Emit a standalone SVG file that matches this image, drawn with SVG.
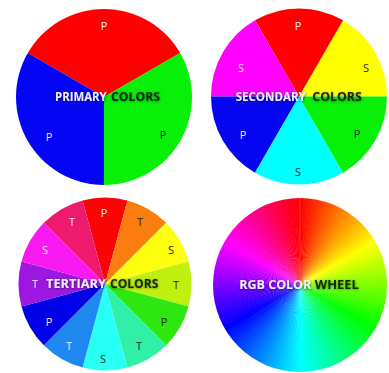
<svg xmlns="http://www.w3.org/2000/svg" xmlns:xlink="http://www.w3.org/1999/xlink" width="389" height="373" viewBox="0 0 389 373">
<defs>
<style>
.lbl{font-family:"Open Sans","Liberation Sans",sans-serif;font-size:11px;text-anchor:middle}
.lt{fill:#f4e4f4}
.dk{fill:#1a2a1a}
.ttl{font-family:"Open Sans","Liberation Sans",sans-serif;font-size:12px;font-weight:700}
.tw{fill:#eeeefc;filter:url(#sh)}
.tb{fill:#0b2a0b;filter:url(#sh2)}
</style>
<filter id="sh" x="-10%" y="-40%" width="120%" height="180%">
<feDropShadow dx="0.6" dy="0.8" stdDeviation="0.8" flood-color="#000" flood-opacity="0.55"/>
</filter>
<filter id="sh2" x="-10%" y="-40%" width="120%" height="180%">
<feDropShadow dx="0.4" dy="0.6" stdDeviation="0.9" flood-color="#000" flood-opacity="0.45"/>
</filter>
<filter id="bl" x="-5%" y="-5%" width="110%" height="110%">
<feGaussianBlur stdDeviation="0.7"/>
</filter>
<clipPath id="c4"><circle cx="300" cy="285" r="87"/></clipPath>
<path id="w" d="M0 0 L0 -90 A90 90 0 0 1 3.93 -89.91 Z"/>
</defs>
<rect width="389" height="373" fill="#ffffff"/>

<g id="primary">
<path d="M104 97 L180.21 53 A88 88 0 0 0 27.79 53 Z" fill="#fe0000"/>
<path d="M104 97 L104 185 A88 88 0 0 0 180.21 53 Z" fill="#08f008"/>
<path d="M104 97 L27.79 53 A88 88 0 0 0 104 185 Z" fill="#0505f5"/>
<text class="lbl lt" x="104" y="30">P</text>
<text class="lbl lt" x="49" y="141">P</text>
<text class="lbl dk" x="163" y="139">P</text>
<text class="ttl tw" x="55" y="101" textLength="51.7" lengthAdjust="spacingAndGlyphs">PRIMARY</text>
<text class="ttl tb" x="111" y="101" textLength="49" lengthAdjust="spacingAndGlyphs">COLORS</text>
</g>

<g id="secondary">
<path d="M299 96.5 L387 96.5 A88 88 0 0 0 343 20.29 Z" fill="#ffff00"/>
<path d="M299 96.5 L343 20.29 A88 88 0 0 0 255 20.29 Z" fill="#fe0000"/>
<path d="M299 96.5 L255 20.29 A88 88 0 0 0 211 96.5 Z" fill="#ff00ff"/>
<path d="M299 96.5 L211 96.5 A88 88 0 0 0 255 172.71 Z" fill="#0505f0"/>
<path d="M299 96.5 L255 172.71 A88 88 0 0 0 343 172.71 Z" fill="#00ffff"/>
<path d="M299 96.5 L343 172.71 A88 88 0 0 0 387 96.5 Z" fill="#08f008"/>
<text class="lbl lt" x="298" y="30">P</text>
<text class="lbl dk" x="366" y="72">S</text>
<text class="lbl dk" x="357" y="138">P</text>
<text class="lbl dk" x="298" y="176">S</text>
<text class="lbl lt" x="243" y="139">P</text>
<text class="lbl lt" x="241" y="72">S</text>
<text class="ttl tw" x="235.7" y="100.7" textLength="70" lengthAdjust="spacingAndGlyphs">SECONDARY</text>
<text class="ttl tb" x="312.3" y="100.7" textLength="49.4" lengthAdjust="spacingAndGlyphs">COLORS</text>
</g>

<g id="tertiary">
<path d="M105 284 L127.39 200.45 A86.5 86.5 0 0 0 82.61 200.45 Z" fill="#f80505"/>
<path d="M105 284 L166.17 222.83 A86.5 86.5 0 0 0 127.39 200.45 Z" fill="#fb7d10"/>
<path d="M105 284 L188.55 261.61 A86.5 86.5 0 0 0 166.17 222.83 Z" fill="#ffff10"/>
<path d="M105 284 L188.55 306.39 A86.5 86.5 0 0 0 188.55 261.61 Z" fill="#bff010"/>
<path d="M105 284 L166.17 345.17 A86.5 86.5 0 0 0 188.55 306.39 Z" fill="#2ee610"/>
<path d="M105 284 L127.39 367.55 A86.5 86.5 0 0 0 166.17 345.17 Z" fill="#30f0a8"/>
<path d="M105 284 L82.61 367.55 A86.5 86.5 0 0 0 127.39 367.55 Z" fill="#28fff5"/>
<path d="M105 284 L43.83 345.17 A86.5 86.5 0 0 0 82.61 367.55 Z" fill="#1e88f0"/>
<path d="M105 284 L21.45 306.39 A86.5 86.5 0 0 0 43.83 345.17 Z" fill="#0000e6"/>
<path d="M105 284 L21.45 261.61 A86.5 86.5 0 0 0 21.45 306.39 Z" fill="#9c18e0"/>
<path d="M105 284 L43.83 222.83 A86.5 86.5 0 0 0 21.45 261.61 Z" fill="#f81af0"/>
<path d="M105 284 L82.61 200.45 A86.5 86.5 0 0 0 43.83 222.83 Z" fill="#ee1a6e"/>
<text class="lbl lt" x="104" y="217">P</text>
<text class="lbl dk" x="140" y="226">T</text>
<text class="lbl dk" x="171" y="254">S</text>
<text class="lbl dk" x="176" y="289">T</text>
<text class="lbl dk" x="164" y="326">P</text>
<text class="lbl dk" x="139" y="350">T</text>
<text class="lbl dk" x="103" y="363">S</text>
<text class="lbl lt" x="69" y="350">T</text>
<text class="lbl lt" x="49" y="326">P</text>
<text class="lbl lt" x="35" y="288">T</text>
<text class="lbl lt" x="45" y="254">S</text>
<text class="lbl lt" x="72" y="226">T</text>
<text class="ttl tw" x="46" y="288" textLength="60" lengthAdjust="spacingAndGlyphs">TERTIARY</text>
<text class="ttl tb" x="110" y="288" textLength="48.3" lengthAdjust="spacingAndGlyphs">COLORS</text>
</g>

<g id="rgbwheel">
<g clip-path="url(#c4)">
<g filter="url(#bl)">
<g transform="translate(300 285)">
<use xlink:href="#w" transform="rotate(0)" fill="hsl(1,100%,50%)"/>
<use xlink:href="#w" transform="rotate(2)" fill="hsl(3,100%,50%)"/>
<use xlink:href="#w" transform="rotate(4)" fill="hsl(5,100%,50%)"/>
<use xlink:href="#w" transform="rotate(6)" fill="hsl(7,100%,50%)"/>
<use xlink:href="#w" transform="rotate(8)" fill="hsl(9,100%,50%)"/>
<use xlink:href="#w" transform="rotate(10)" fill="hsl(11,100%,50%)"/>
<use xlink:href="#w" transform="rotate(12)" fill="hsl(13,100%,50%)"/>
<use xlink:href="#w" transform="rotate(14)" fill="hsl(15,100%,50%)"/>
<use xlink:href="#w" transform="rotate(16)" fill="hsl(17,100%,50%)"/>
<use xlink:href="#w" transform="rotate(18)" fill="hsl(19,100%,50%)"/>
<use xlink:href="#w" transform="rotate(20)" fill="hsl(21,100%,50%)"/>
<use xlink:href="#w" transform="rotate(22)" fill="hsl(23,100%,50%)"/>
<use xlink:href="#w" transform="rotate(24)" fill="hsl(25,100%,50%)"/>
<use xlink:href="#w" transform="rotate(26)" fill="hsl(27,100%,50%)"/>
<use xlink:href="#w" transform="rotate(28)" fill="hsl(29,100%,50%)"/>
<use xlink:href="#w" transform="rotate(30)" fill="hsl(31,100%,50%)"/>
<use xlink:href="#w" transform="rotate(32)" fill="hsl(33,100%,50%)"/>
<use xlink:href="#w" transform="rotate(34)" fill="hsl(35,100%,50%)"/>
<use xlink:href="#w" transform="rotate(36)" fill="hsl(37,100%,50%)"/>
<use xlink:href="#w" transform="rotate(38)" fill="hsl(39,100%,50%)"/>
<use xlink:href="#w" transform="rotate(40)" fill="hsl(41,100%,50%)"/>
<use xlink:href="#w" transform="rotate(42)" fill="hsl(43,100%,50%)"/>
<use xlink:href="#w" transform="rotate(44)" fill="hsl(45,100%,50%)"/>
<use xlink:href="#w" transform="rotate(46)" fill="hsl(47,100%,50%)"/>
<use xlink:href="#w" transform="rotate(48)" fill="hsl(49,100%,50%)"/>
<use xlink:href="#w" transform="rotate(50)" fill="hsl(51,100%,50%)"/>
<use xlink:href="#w" transform="rotate(52)" fill="hsl(53,100%,50%)"/>
<use xlink:href="#w" transform="rotate(54)" fill="hsl(55,100%,50%)"/>
<use xlink:href="#w" transform="rotate(56)" fill="hsl(57,100%,50%)"/>
<use xlink:href="#w" transform="rotate(58)" fill="hsl(59,100%,50%)"/>
<use xlink:href="#w" transform="rotate(60)" fill="hsl(61,100%,50%)"/>
<use xlink:href="#w" transform="rotate(62)" fill="hsl(63,100%,50%)"/>
<use xlink:href="#w" transform="rotate(64)" fill="hsl(65,100%,50%)"/>
<use xlink:href="#w" transform="rotate(66)" fill="hsl(67,100%,50%)"/>
<use xlink:href="#w" transform="rotate(68)" fill="hsl(69,100%,50%)"/>
<use xlink:href="#w" transform="rotate(70)" fill="hsl(71,100%,50%)"/>
<use xlink:href="#w" transform="rotate(72)" fill="hsl(73,100%,50%)"/>
<use xlink:href="#w" transform="rotate(74)" fill="hsl(75,100%,50%)"/>
<use xlink:href="#w" transform="rotate(76)" fill="hsl(77,100%,50%)"/>
<use xlink:href="#w" transform="rotate(78)" fill="hsl(79,100%,50%)"/>
<use xlink:href="#w" transform="rotate(80)" fill="hsl(81,100%,50%)"/>
<use xlink:href="#w" transform="rotate(82)" fill="hsl(83,100%,50%)"/>
<use xlink:href="#w" transform="rotate(84)" fill="hsl(85,100%,50%)"/>
<use xlink:href="#w" transform="rotate(86)" fill="hsl(87,100%,50%)"/>
<use xlink:href="#w" transform="rotate(88)" fill="hsl(89,100%,50%)"/>
<use xlink:href="#w" transform="rotate(90)" fill="hsl(91,100%,50%)"/>
<use xlink:href="#w" transform="rotate(92)" fill="hsl(93,100%,50%)"/>
<use xlink:href="#w" transform="rotate(94)" fill="hsl(95,100%,50%)"/>
<use xlink:href="#w" transform="rotate(96)" fill="hsl(97,100%,50%)"/>
<use xlink:href="#w" transform="rotate(98)" fill="hsl(99,100%,50%)"/>
<use xlink:href="#w" transform="rotate(100)" fill="hsl(101,100%,50%)"/>
<use xlink:href="#w" transform="rotate(102)" fill="hsl(103,100%,50%)"/>
<use xlink:href="#w" transform="rotate(104)" fill="hsl(105,100%,50%)"/>
<use xlink:href="#w" transform="rotate(106)" fill="hsl(107,100%,50%)"/>
<use xlink:href="#w" transform="rotate(108)" fill="hsl(109,100%,50%)"/>
<use xlink:href="#w" transform="rotate(110)" fill="hsl(111,100%,50%)"/>
<use xlink:href="#w" transform="rotate(112)" fill="hsl(113,100%,50%)"/>
<use xlink:href="#w" transform="rotate(114)" fill="hsl(115,100%,50%)"/>
<use xlink:href="#w" transform="rotate(116)" fill="hsl(117,100%,50%)"/>
<use xlink:href="#w" transform="rotate(118)" fill="hsl(119,100%,50%)"/>
<use xlink:href="#w" transform="rotate(120)" fill="hsl(121,100%,50%)"/>
<use xlink:href="#w" transform="rotate(122)" fill="hsl(123,100%,50%)"/>
<use xlink:href="#w" transform="rotate(124)" fill="hsl(125,100%,50%)"/>
<use xlink:href="#w" transform="rotate(126)" fill="hsl(127,100%,50%)"/>
<use xlink:href="#w" transform="rotate(128)" fill="hsl(129,100%,50%)"/>
<use xlink:href="#w" transform="rotate(130)" fill="hsl(131,100%,50%)"/>
<use xlink:href="#w" transform="rotate(132)" fill="hsl(133,100%,50%)"/>
<use xlink:href="#w" transform="rotate(134)" fill="hsl(135,100%,50%)"/>
<use xlink:href="#w" transform="rotate(136)" fill="hsl(137,100%,50%)"/>
<use xlink:href="#w" transform="rotate(138)" fill="hsl(139,100%,50%)"/>
<use xlink:href="#w" transform="rotate(140)" fill="hsl(141,100%,50%)"/>
<use xlink:href="#w" transform="rotate(142)" fill="hsl(143,100%,50%)"/>
<use xlink:href="#w" transform="rotate(144)" fill="hsl(145,100%,50%)"/>
<use xlink:href="#w" transform="rotate(146)" fill="hsl(147,100%,50%)"/>
<use xlink:href="#w" transform="rotate(148)" fill="hsl(149,100%,50%)"/>
<use xlink:href="#w" transform="rotate(150)" fill="hsl(151,100%,50%)"/>
<use xlink:href="#w" transform="rotate(152)" fill="hsl(153,100%,50%)"/>
<use xlink:href="#w" transform="rotate(154)" fill="hsl(155,100%,50%)"/>
<use xlink:href="#w" transform="rotate(156)" fill="hsl(157,100%,50%)"/>
<use xlink:href="#w" transform="rotate(158)" fill="hsl(159,100%,50%)"/>
<use xlink:href="#w" transform="rotate(160)" fill="hsl(161,100%,50%)"/>
<use xlink:href="#w" transform="rotate(162)" fill="hsl(163,100%,50%)"/>
<use xlink:href="#w" transform="rotate(164)" fill="hsl(165,100%,50%)"/>
<use xlink:href="#w" transform="rotate(166)" fill="hsl(167,100%,50%)"/>
<use xlink:href="#w" transform="rotate(168)" fill="hsl(169,100%,50%)"/>
<use xlink:href="#w" transform="rotate(170)" fill="hsl(171,100%,50%)"/>
<use xlink:href="#w" transform="rotate(172)" fill="hsl(173,100%,50%)"/>
<use xlink:href="#w" transform="rotate(174)" fill="hsl(175,100%,50%)"/>
<use xlink:href="#w" transform="rotate(176)" fill="hsl(177,100%,50%)"/>
<use xlink:href="#w" transform="rotate(178)" fill="hsl(179,100%,50%)"/>
<use xlink:href="#w" transform="rotate(180)" fill="hsl(181,100%,50%)"/>
<use xlink:href="#w" transform="rotate(182)" fill="hsl(183,100%,50%)"/>
<use xlink:href="#w" transform="rotate(184)" fill="hsl(185,100%,50%)"/>
<use xlink:href="#w" transform="rotate(186)" fill="hsl(187,100%,50%)"/>
<use xlink:href="#w" transform="rotate(188)" fill="hsl(189,100%,50%)"/>
<use xlink:href="#w" transform="rotate(190)" fill="hsl(191,100%,50%)"/>
<use xlink:href="#w" transform="rotate(192)" fill="hsl(193,100%,50%)"/>
<use xlink:href="#w" transform="rotate(194)" fill="hsl(195,100%,50%)"/>
<use xlink:href="#w" transform="rotate(196)" fill="hsl(197,100%,50%)"/>
<use xlink:href="#w" transform="rotate(198)" fill="hsl(199,100%,50%)"/>
<use xlink:href="#w" transform="rotate(200)" fill="hsl(201,100%,50%)"/>
<use xlink:href="#w" transform="rotate(202)" fill="hsl(203,100%,50%)"/>
<use xlink:href="#w" transform="rotate(204)" fill="hsl(205,100%,50%)"/>
<use xlink:href="#w" transform="rotate(206)" fill="hsl(207,100%,50%)"/>
<use xlink:href="#w" transform="rotate(208)" fill="hsl(209,100%,50%)"/>
<use xlink:href="#w" transform="rotate(210)" fill="hsl(211,100%,50%)"/>
<use xlink:href="#w" transform="rotate(212)" fill="hsl(213,100%,50%)"/>
<use xlink:href="#w" transform="rotate(214)" fill="hsl(215,100%,50%)"/>
<use xlink:href="#w" transform="rotate(216)" fill="hsl(217,100%,50%)"/>
<use xlink:href="#w" transform="rotate(218)" fill="hsl(219,100%,50%)"/>
<use xlink:href="#w" transform="rotate(220)" fill="hsl(221,100%,50%)"/>
<use xlink:href="#w" transform="rotate(222)" fill="hsl(223,100%,50%)"/>
<use xlink:href="#w" transform="rotate(224)" fill="hsl(225,100%,50%)"/>
<use xlink:href="#w" transform="rotate(226)" fill="hsl(227,100%,50%)"/>
<use xlink:href="#w" transform="rotate(228)" fill="hsl(229,100%,50%)"/>
<use xlink:href="#w" transform="rotate(230)" fill="hsl(231,100%,50%)"/>
<use xlink:href="#w" transform="rotate(232)" fill="hsl(233,100%,50%)"/>
<use xlink:href="#w" transform="rotate(234)" fill="hsl(235,100%,50%)"/>
<use xlink:href="#w" transform="rotate(236)" fill="hsl(237,100%,50%)"/>
<use xlink:href="#w" transform="rotate(238)" fill="hsl(239,100%,50%)"/>
<use xlink:href="#w" transform="rotate(240)" fill="hsl(241,100%,50%)"/>
<use xlink:href="#w" transform="rotate(242)" fill="hsl(243,100%,50%)"/>
<use xlink:href="#w" transform="rotate(244)" fill="hsl(245,100%,50%)"/>
<use xlink:href="#w" transform="rotate(246)" fill="hsl(247,100%,50%)"/>
<use xlink:href="#w" transform="rotate(248)" fill="hsl(249,100%,50%)"/>
<use xlink:href="#w" transform="rotate(250)" fill="hsl(251,100%,50%)"/>
<use xlink:href="#w" transform="rotate(252)" fill="hsl(253,100%,50%)"/>
<use xlink:href="#w" transform="rotate(254)" fill="hsl(255,100%,50%)"/>
<use xlink:href="#w" transform="rotate(256)" fill="hsl(257,100%,50%)"/>
<use xlink:href="#w" transform="rotate(258)" fill="hsl(259,100%,50%)"/>
<use xlink:href="#w" transform="rotate(260)" fill="hsl(261,100%,50%)"/>
<use xlink:href="#w" transform="rotate(262)" fill="hsl(263,100%,50%)"/>
<use xlink:href="#w" transform="rotate(264)" fill="hsl(265,100%,50%)"/>
<use xlink:href="#w" transform="rotate(266)" fill="hsl(267,100%,50%)"/>
<use xlink:href="#w" transform="rotate(268)" fill="hsl(269,100%,50%)"/>
<use xlink:href="#w" transform="rotate(270)" fill="hsl(271,100%,50%)"/>
<use xlink:href="#w" transform="rotate(272)" fill="hsl(273,100%,50%)"/>
<use xlink:href="#w" transform="rotate(274)" fill="hsl(275,100%,50%)"/>
<use xlink:href="#w" transform="rotate(276)" fill="hsl(277,100%,50%)"/>
<use xlink:href="#w" transform="rotate(278)" fill="hsl(279,100%,50%)"/>
<use xlink:href="#w" transform="rotate(280)" fill="hsl(281,100%,50%)"/>
<use xlink:href="#w" transform="rotate(282)" fill="hsl(283,100%,50%)"/>
<use xlink:href="#w" transform="rotate(284)" fill="hsl(285,100%,50%)"/>
<use xlink:href="#w" transform="rotate(286)" fill="hsl(287,100%,50%)"/>
<use xlink:href="#w" transform="rotate(288)" fill="hsl(289,100%,50%)"/>
<use xlink:href="#w" transform="rotate(290)" fill="hsl(291,100%,50%)"/>
<use xlink:href="#w" transform="rotate(292)" fill="hsl(293,100%,50%)"/>
<use xlink:href="#w" transform="rotate(294)" fill="hsl(295,100%,50%)"/>
<use xlink:href="#w" transform="rotate(296)" fill="hsl(297,100%,50%)"/>
<use xlink:href="#w" transform="rotate(298)" fill="hsl(299,100%,50%)"/>
<use xlink:href="#w" transform="rotate(300)" fill="hsl(301,100%,50%)"/>
<use xlink:href="#w" transform="rotate(302)" fill="hsl(303,100%,50%)"/>
<use xlink:href="#w" transform="rotate(304)" fill="hsl(305,100%,50%)"/>
<use xlink:href="#w" transform="rotate(306)" fill="hsl(307,100%,50%)"/>
<use xlink:href="#w" transform="rotate(308)" fill="hsl(309,100%,50%)"/>
<use xlink:href="#w" transform="rotate(310)" fill="hsl(311,100%,50%)"/>
<use xlink:href="#w" transform="rotate(312)" fill="hsl(313,100%,50%)"/>
<use xlink:href="#w" transform="rotate(314)" fill="hsl(315,100%,50%)"/>
<use xlink:href="#w" transform="rotate(316)" fill="hsl(317,100%,50%)"/>
<use xlink:href="#w" transform="rotate(318)" fill="hsl(319,100%,50%)"/>
<use xlink:href="#w" transform="rotate(320)" fill="hsl(321,100%,50%)"/>
<use xlink:href="#w" transform="rotate(322)" fill="hsl(323,100%,50%)"/>
<use xlink:href="#w" transform="rotate(324)" fill="hsl(325,100%,50%)"/>
<use xlink:href="#w" transform="rotate(326)" fill="hsl(327,100%,50%)"/>
<use xlink:href="#w" transform="rotate(328)" fill="hsl(329,100%,50%)"/>
<use xlink:href="#w" transform="rotate(330)" fill="hsl(331,100%,50%)"/>
<use xlink:href="#w" transform="rotate(332)" fill="hsl(333,100%,50%)"/>
<use xlink:href="#w" transform="rotate(334)" fill="hsl(335,100%,50%)"/>
<use xlink:href="#w" transform="rotate(336)" fill="hsl(337,100%,50%)"/>
<use xlink:href="#w" transform="rotate(338)" fill="hsl(339,100%,50%)"/>
<use xlink:href="#w" transform="rotate(340)" fill="hsl(341,100%,50%)"/>
<use xlink:href="#w" transform="rotate(342)" fill="hsl(343,100%,50%)"/>
<use xlink:href="#w" transform="rotate(344)" fill="hsl(345,100%,50%)"/>
<use xlink:href="#w" transform="rotate(346)" fill="hsl(347,100%,50%)"/>
<use xlink:href="#w" transform="rotate(348)" fill="hsl(349,100%,50%)"/>
<use xlink:href="#w" transform="rotate(350)" fill="hsl(351,100%,50%)"/>
<use xlink:href="#w" transform="rotate(352)" fill="hsl(353,100%,50%)"/>
<use xlink:href="#w" transform="rotate(354)" fill="hsl(355,100%,50%)"/>
<use xlink:href="#w" transform="rotate(356)" fill="hsl(357,100%,50%)"/>
<use xlink:href="#w" transform="rotate(358)" fill="hsl(359,100%,50%)"/>
</g>
</g>
</g>
<line x1="300" y1="285" x2="300" y2="198" stroke="#ffffff" stroke-opacity="0.25" stroke-width="0.8"/>
<text class="ttl tw" x="239.3" y="289" textLength="72" lengthAdjust="spacingAndGlyphs">RGB COLOR</text>
<text class="ttl tb" x="314.7" y="289" textLength="44" lengthAdjust="spacingAndGlyphs">WHEEL</text>
</g>
</svg>
